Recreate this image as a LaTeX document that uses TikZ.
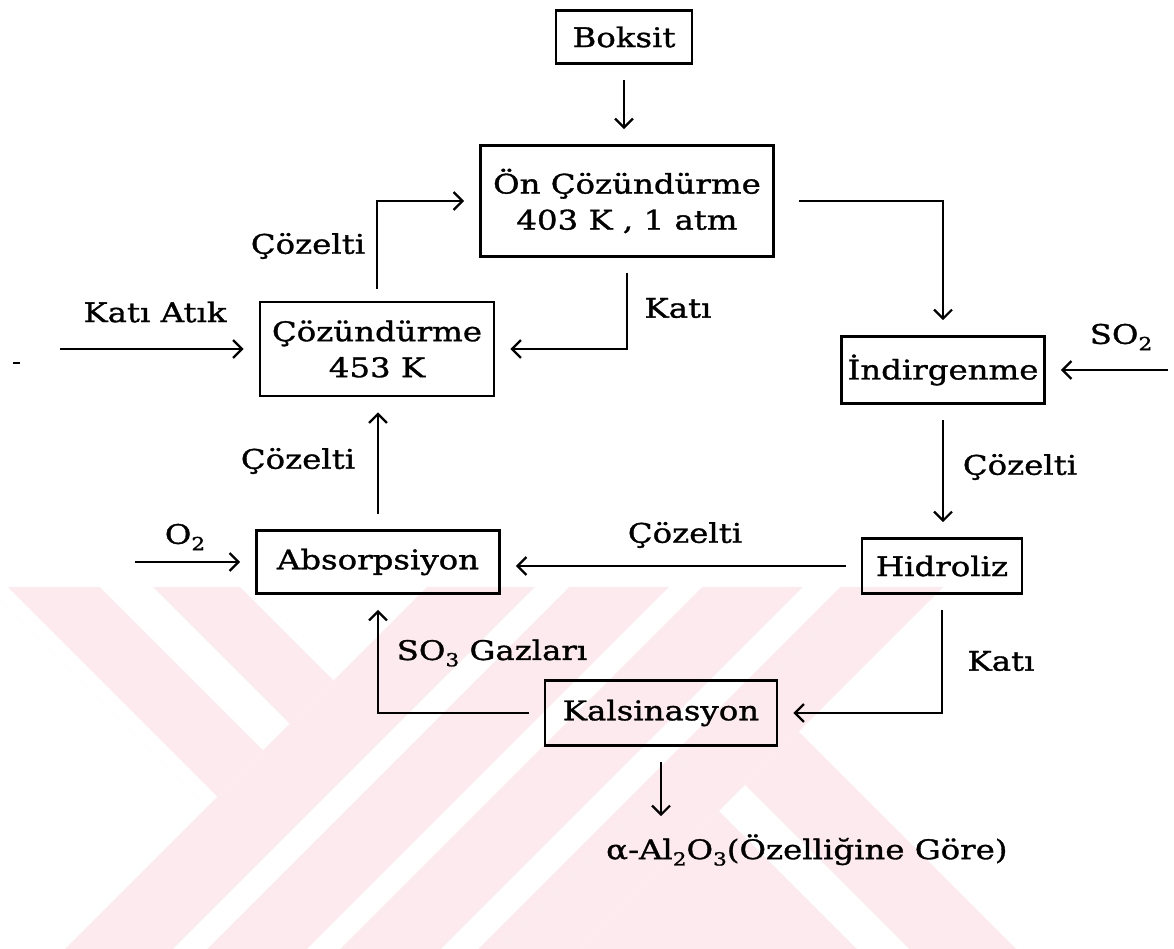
\documentclass[tikz,border=0pt]{standalone}
\usepackage{fontspec}
\setmainfont{DejaVu Serif}[FakeStretch=1.2,FakeBold=1.2]
\usetikzlibrary{arrows.meta}
\definecolor{wmpink}{RGB}{253,234,238}
\newcommand{\mysub}[1]{\raisebox{-0.45ex}{\fontsize{18}{18}\selectfont #1}}
\begin{document}
\begin{tikzpicture}[x=1pt,y=-1pt,
  every node/.style={font=\fontsize{27}{36}\selectfont, text=black},
  box/.style={draw, line width=2.8pt, rectangle, align=center, inner sep=0pt},
  lbl/.style={inner sep=0pt, align=center},
  arr/.style={draw, line width=2.2pt, -{Straight Barb[length=9pt,width=18pt]}, shorten <=15pt, shorten >=15pt},
]
\useasboundingbox (0,0) rectangle (1174,949);
\fill[white] (0,0) rectangle (1174,949);
% watermark
\fill[wmpink] (8,587) -- (240,587) -- (333.5,680.5) -- (217.5,796.5) -- cycle;
\fill[wmpink] (427,587) -- (943,587) -- (581,949) -- (65,949) -- cycle;
\fill[wmpink] (798.5,731.5) -- (1016,949) -- (581,949) -- cycle;
\fill[white] (100,587) -- (153,587) -- (289.5,723.5) -- (263,750) -- cycle;
\fill[white] (535,587) -- (569,587) -- (207,949) -- (173,949) -- cycle;
\fill[white] (669,587) -- (702,587) -- (340,949) -- (307,949) -- cycle;
\fill[white] (803,587) -- (840,587) -- (478,949) -- (441,949) -- cycle;
\fill[white] (745,785) -- (909,949) -- (857,949) -- (719,811) -- cycle;

% boxes
\node[box, minimum width=136pt, minimum height=53pt] (boksit) at (624,37) {Boksit};
\node[box, minimum width=293pt, minimum height=111pt] (on) at (627,201) {Ön Çözündürme\\403 K , 1 atm};
\node[box, minimum width=234pt, minimum height=94pt] (coz) at (377,349) {Çözündürme\\453 K};
\node[box, minimum width=203pt, minimum height=67pt] (ind) at (943,370) {İndirgenme};
\node[box, minimum width=243pt, minimum height=63pt] (abs) at (378,562) {Absorpsiyon};
\node[box, minimum width=160pt, minimum height=55pt] (hid) at (942,566) {Hidroliz};
\node[box, minimum width=232pt, minimum height=65pt] (kal) at (661,713) {Kalsinasyon};
\node[lbl, anchor=west] (alpha) at (606,850) {α-Al\mysub{2}O\mysub{3}(Özelliğine Göre)};

% free ends
\coordinate (katiin) at (60,349);
\coordinate (so2in) at (1168,370);
\coordinate (o2in) at (135,562);

% labels
\node[lbl] (l1) at (308,246) {Çözelti};
\node[lbl] (l2) at (678,308) {Katı};
\node[lbl] (l3) at (155,312) {Katı Atık};
\node[lbl] (l4) at (1121,337) {SO\mysub{2}};
\node[lbl] (l5) at (1020,467) {Çözelti};
\node[lbl] (l6) at (298,461) {Çözelti};
\node[lbl] (l7) at (685,535) {Çözelti};
\node[lbl] (l8) at (185,537) {O\mysub{2}};
\node[lbl] (l9) at (492,653) {SO\mysub{3} Gazları};
\node[lbl] (l10) at (1001,661) {Katı};

% connectors
\draw[arr] (boksit.south) -- (boksit.south |- on.north);
\draw[arr, shorten <=12pt] (coz.north) |- (on.west);
\draw[arr, shorten <=24pt] (on.east) -| (ind.north);
\draw[arr] (on.south) |- (coz.east);
\draw[arr, shorten <=0pt] (katiin) -- (coz.west);
\draw[arr, shorten <=0pt] (so2in) -- (ind.east);
\draw[arr] (ind.south) -- (ind.south |- hid.north);
\draw[arr] (hid.west) -- (hid.west -| abs.east);
\draw[arr] (abs.north) -- (abs.north |- coz.south);
\draw[arr, shorten <=0pt] (o2in) -- (abs.west);
\draw[arr] (kal.west) -| (abs.south);
\draw[arr] (hid.south) |- (kal.east);
\draw[arr, shorten >=18pt] (kal.south) -- (kal.south |- alpha.north);
\draw[line width=1.5pt] (13,363) -- (20,363);
\end{tikzpicture}
\end{document}
